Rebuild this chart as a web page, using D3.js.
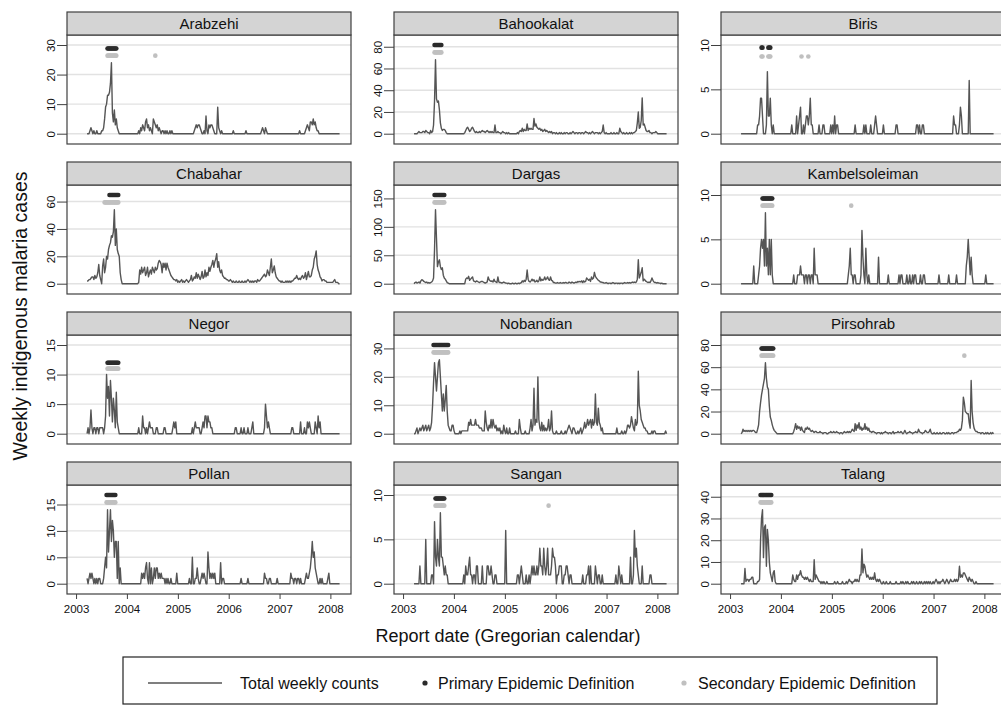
<!DOCTYPE html>
<html><head><meta charset="utf-8">
<script src="https://cdn.jsdelivr.net/npm/d3@7"></script>
<style>body{margin:0;background:#fff}svg{display:block;font-family:"Liberation Sans",Arial,Helvetica,sans-serif}</style>
</head><body><svg id="c" width="1001" height="705"></svg>
<script>
const sites = ["Arabzehi","Bahookalat","Biris","Chabahar","Dargas","Kambelsoleiman","Negor","Nobandian","Pirsohrab","Pollan","Sangan","Talang"];
const firstWeek = "2003-03-21";
const yearTicks = [2003,2004,2005,2006,2007,2008];

const arabzehi = [
0,0,0,1,2,1,0,1,0,0, 1,0,0,0,0,1,1,2,5,9, 10,13,13,14,17,24,7,4,8,3, 5,2,1,0,0,0,0,0,0,0,
0,0,0,0,0,0,0,0,0,0, 0,0,0,1,0,2,1,3,2,1, 4,5,2,3,1,2,1,0,5,4, 3,2,3,1,2,1,0,1,1,0,
1,0,1,0,0,1,0,1,0,0, 0,0,0,0,0,0,0,0,0,0, 0,0,0,0,0,0,0,0,0,0, 1,2,3,2,3,3,2,1,0,0,
1,0,6,1,0,3,2,3,3,2, 1,0,0,0,9,2,1,0,1,0, 0,0,0,0,0,0,0,0,0,0, 1,0,0,0,0,0,0,0,0,0,
0,0,0,1,0,0,0,0,0,0, 0,0,0,0,0,0,0,0,0,1, 2,1,0,2,1,0,0,0,0,0, 0,0,0,0,0,0,0,0,0,0,
0,0,0,0,0,0,0,0,0,0, 0,0,0,0,0,0,0,0,1,0, 0,0,0,0,1,2,3,2,1,4, 4,3,5,3,4,2,1,1,0,0,
0,0,0,0,0,0,0,0,0,0, 0,0,0,0,0,0,0,0,0,0];
const bahookalat = [
0,0,0,0,1,2,1,1,1,2, 2,1,3,2,1,1,0,3,1,2, 8,30,68,32,29,30,22,10,5,3, 4,4,3,1,0,0,0,0,0,0,
0,0,0,0,0,0,0,0,0,0, 0,0,1,3,5,6,4,2,3,5, 6,4,2,1,2,1,1,2,1,2, 3,2,2,1,2,3,2,1,2,1,
2,1,1,8,1,1,2,1,1,0, 1,2,1,1,0,1,0,1,0,0, 0,0,0,0,0,0,1,0,2,3, 2,5,2,4,3,3,9,3,5,4,
5,4,4,14,7,9,6,5,4,5, 3,4,2,3,4,2,3,2,1,2, 1,2,0,1,1,0,1,0,0,1, 0,1,0,0,1,0,1,1,0,0,
1,0,1,2,1,0,1,1,0,1, 1,0,1,1,0,1,2,1,1,0, 1,0,1,2,1,0,1,1,1,0, 1,0,1,2,8,1,0,1,0,0,
0,0,1,0,0,1,0,0,1,0, 0,5,2,1,0,1,0,0,1,0, 0,1,0,1,0,1,1,2,3,10, 20,5,6,12,33,8,9,6,3,2,
2,3,1,1,0,1,1,1,2,1, 0,0,0,0,0,0,0,0,0,0];
const biris = [
0,0,0,0,0,0,0,0,0,0, 0,0,0,0,0,0,0,1,1,2, 4,4,2,0,0,0,1,7,2,2, 4,1,0,1,0,0,0,0,0,0,
0,0,0,0,0,0,0,0,0,0, 0,0,1,0,0,0,0,2,0,1, 2,3,0,0,1,0,1,2,2,1, 2,4,1,1,0,0,0,0,0,0,
1,0,0,0,1,1,0,0,0,0, 0,0,1,0,1,0,2,0,1,1, 0,0,0,0,0,0,0,0,0,0, 0,0,0,0,0,0,0,1,0,0,
0,0,0,0,0,0,1,0,1,0, 0,0,0,1,0,0,0,1,2,1, 0,0,0,0,0,0,1,0,0,0, 0,0,0,0,0,0,0,0,0,1,
1,0,0,0,0,0,0,0,0,0, 0,0,0,0,0,0,0,0,0,0, 1,1,0,1,0,0,1,1,0,0, 0,0,0,0,0,0,0,0,0,0,
0,0,0,0,0,0,0,0,0,0, 0,0,0,0,0,0,0,0,2,1, 1,0,0,0,1,3,2,0,0,0, 0,0,0,0,6,0,0,0,0,0,
0,0,0,0,0,0,0,0,0,0, 0,0,0,0,0,0,0,0,0,0];
const chabahar = [
2,2,3,3,4,5,5,3,6,4, 5,8,14,6,3,0,13,18,8,12, 20,18,25,28,30,35,34,38,54,28, 40,25,22,20,8,3,0,0,0,0,
0,0,0,0,0,0,0,0,0,0, 0,0,0,1,10,7,12,8,10,12, 6,8,12,5,8,10,7,12,10,8, 12,10,11,15,17,16,14,8,15,12,
15,10,15,12,10,8,6,5,4,3, 3,2,3,1,2,1,2,3,1,2, 1,2,3,2,1,2,3,6,2,3, 5,4,8,4,7,5,3,5,9,4,
5,10,5,8,6,12,9,12,14,17, 12,16,18,22,12,16,10,8,10,6, 5,4,4,3,3,2,2,3,2,1, 2,1,1,2,1,1,2,1,1,2,
1,1,2,1,2,3,2,1,2,1, 2,1,2,2,1,3,2,2,3,4, 5,6,7,5,6,10,8,6,12,18, 8,10,13,8,5,4,3,2,2,1,
2,1,1,1,2,1,2,1,2,1, 2,2,3,4,4,6,4,3,4,3, 5,6,4,5,8,3,6,9,5,5, 6,10,12,18,20,24,14,10,8,5,
4,2,3,3,2,2,1,1,1,1, 1,1,1,2,3,1,1,1,0,0];
const dargas = [
0,2,3,1,2,3,1,5,7,6, 4,3,2,3,1,2,1,2,3,5, 10,60,130,80,30,38,42,30,25,28, 15,10,8,5,2,1,0,0,0,0,
0,0,0,0,0,0,0,0,0,0, 0,0,0,8,10,9,13,6,8,10, 12,5,4,3,5,4,3,2,3,4, 4,3,2,1,2,3,12,7,5,4,
5,3,8,4,3,2,12,3,2,2, 1,2,3,2,1,1,0,1,0,0, 0,1,0,0,1,0,0,1,0,1, 2,5,3,6,4,8,24,8,4,3,
5,8,5,7,3,4,6,3,5,12, 5,8,6,7,12,7,9,12,7,6, 12,6,5,2,2,1,1,2,1,1, 2,1,1,2,1,2,2,1,1,3,
2,1,3,2,1,2,3,2,4,3, 4,3,5,2,5,3,4,10,8,6, 8,4,12,8,10,20,13,10,8,6, 5,3,3,2,2,1,1,2,1,0,
1,1,0,1,2,1,0,1,1,0, 1,0,1,1,0,1,2,1,1,2, 1,2,1,2,3,2,3,2,3,8, 42,10,15,20,28,5,8,6,4,3,
2,3,2,5,10,6,3,2,2,1, 2,1,1,0,1,0,0,0,0,0];
const kambelsoleiman = [
0,0,0,0,0,0,0,0,0,0, 0,0,0,2,0,0,0,0,1,2, 4,5,4,5,2,8,2,4,1,5, 1,5,1,0,0,0,0,0,0,0,
0,0,0,0,0,0,0,0,0,0, 0,0,0,0,1,0,0,0,1,1, 1,2,1,1,1,0,1,1,0,1, 1,0,1,1,0,4,1,1,1,0,
0,0,0,0,0,0,0,0,0,0, 0,0,0,0,0,0,0,0,0,0, 0,0,0,0,0,0,0,0,0,0, 1,2,4,1,1,0,1,1,0,0,
0,0,0,1,6,3,1,0,4,1, 0,1,0,0,0,0,0,0,0,0, 0,3,0,0,0,0,0,0,0,0, 0,1,0,0,0,0,0,0,0,0,
0,0,1,0,1,1,0,0,0,0, 1,0,0,1,0,0,1,0,1,1, 0,0,0,0,1,0,0,1,1,0, 0,0,0,0,0,0,0,0,0,0,
0,0,0,1,0,0,0,0,0,0, 0,0,0,1,0,0,0,0,0,0, 0,1,0,0,0,0,0,0,0,0, 0,2,3,5,3,1,3,1,0,0,
0,0,0,0,0,0,0,0,0,0, 0,1,0,0,0,0,0,0,0,0];
const negor = [
0,1,0,1,4,1,0,1,1,0, 1,1,0,1,1,1,1,0,1,3, 10,6,8,3,9,6,2,6,4,1, 7,2,1,0,0,0,0,0,0,0,
0,0,0,0,0,0,0,0,0,0, 0,0,0,1,0,0,0,3,1,1, 0,1,0,1,2,1,1,1,0,0, 0,1,1,0,0,0,0,0,0,1,
1,0,0,0,0,0,0,0,1,2, 1,2,0,0,0,0,0,0,0,0, 0,0,0,0,0,0,0,0,1,0, 1,2,1,1,1,1,0,0,1,2,
1,3,3,1,3,2,2,1,1,0, 0,0,0,0,0,0,0,0,0,0, 0,0,0,0,0,0,0,0,0,0, 0,0,1,1,0,0,0,0,1,0,
0,1,0,0,0,1,0,0,0,1, 2,0,0,0,0,0,0,0,0,0, 0,0,1,5,3,1,2,1,0,0, 0,0,0,0,0,0,0,0,0,0,
0,0,0,0,0,0,0,0,0,0, 1,1,0,0,0,0,0,0,0,2, 0,0,0,1,0,0,2,1,2,1, 0,0,0,0,2,1,0,3,1,2,
0,0,0,0,0,0,0,0,0,0, 0,0,0,0,0,0,0,0,0,0];
const nobandian = [
0,0,1,2,0,1,2,1,2,3, 1,2,3,1,2,3,1,2,4,10, 18,25,20,15,20,25,26,20,14,8, 14,8,12,17,8,3,2,1,1,3,
3,1,0,0,0,0,0,1,0,1, 1,1,1,1,1,1,4,3,5,3, 3,3,3,5,3,3,3,2,2,2, 1,1,1,8,4,2,1,3,2,5,
2,5,3,2,3,1,2,1,2,0, 1,0,3,1,0,2,0,0,2,0, 0,0,0,0,1,0,0,0,5,2, 0,0,0,0,1,0,0,0,0,2,
5,1,3,16,3,5,4,20,5,2, 1,4,1,3,1,2,1,2,5,1, 2,8,1,0,0,0,1,0,0,0, 0,1,0,0,0,1,0,1,2,3,
2,1,0,2,2,1,0,0,1,0, 1,2,0,1,2,4,2,3,5,3, 4,5,2,5,3,4,14,4,3,9, 4,3,1,2,0,0,0,0,0,0,
0,0,0,0,0,0,0,0,2,0, 0,0,0,1,0,0,1,0,1,3, 3,2,3,6,4,2,1,5,3,4, 22,10,8,5,4,3,2,2,1,1,
0,0,0,0,1,0,1,1,0,0, 0,0,0,0,0,0,0,0,1,0];
const pirsohrab = [
0,1,4,2,3,2,3,2,3,2, 3,2,3,3,2,1,1,4,8,20, 28,35,40,45,50,64,50,42,40,25, 15,12,8,5,3,2,1,0,0,0,
0,0,0,0,0,0,0,0,0,0, 0,0,0,0,2,5,9,4,7,5, 6,3,6,3,2,1,5,4,6,4, 5,3,2,3,2,1,2,2,1,1,
1,2,1,1,0,1,1,1,0,0, 1,1,2,1,1,2,1,1,2,1, 1,0,1,1,0,1,2,1,1,2, 1,2,1,2,4,3,2,9,3,8,
5,10,4,6,3,5,4,9,4,6, 3,5,2,2,1,2,2,1,1,0, 1,1,1,0,1,0,1,1,2,1, 1,0,1,1,0,1,2,0,1,1,
1,2,1,1,2,1,0,1,3,1, 0,1,1,2,1,1,0,1,1,2, 1,1,4,2,1,1,0,1,1,3, 2,1,1,2,4,1,0,0,1,0,
0,1,0,0,1,0,0,1,1,0, 0,1,0,1,0,0,1,1,0,1, 1,1,2,2,4,3,5,12,33,28, 20,19,18,18,10,5,48,20,10,5,
3,2,2,1,1,1,0,1,1,0, 0,1,0,1,0,0,1,0,1,0];
const pollan = [
1,0,1,2,1,2,1,0,1,0, 1,0,1,1,0,0,0,1,3,5, 3,14,6,10,14,8,12,10,5,8, 8,1,8,0,3,0,0,0,0,0,
0,0,0,0,0,0,0,0,0,0, 0,0,0,0,0,0,2,1,2,1, 3,4,1,0,4,0,3,0,1,3, 1,3,3,1,2,1,2,1,1,1,
0,1,0,1,0,0,1,0,0,0, 0,0,2,0,0,0,0,0,0,0, 0,0,0,0,0,1,0,0,5,0, 0,1,1,3,1,0,0,1,2,1,
2,1,0,0,6,3,1,2,1,2, 1,2,0,0,0,0,0,4,0,1, 1,0,0,0,0,0,0,0,0,0, 0,0,0,0,0,0,0,0,1,0,
0,0,0,0,0,1,0,0,0,0, 0,0,0,0,0,0,0,0,0,0, 0,0,2,1,1,0,0,1,1,0, 0,0,0,0,0,1,0,0,0,0,
0,0,0,0,0,0,0,0,0,2, 1,1,0,1,1,0,1,1,0,1, 0,0,0,0,1,2,1,1,2,3, 5,8,5,6,3,2,1,0,0,1,
0,1,0,0,0,0,0,1,2,0, 0,0,0,0,0,0,0,0,0,0];
const sangan = [
0,0,0,0,0,0,2,0,0,0, 0,0,5,0,0,0,0,0,1,1, 0,7,3,2,5,3,2,8,3,3, 2,1,2,1,1,0,0,0,0,0,
0,0,0,0,0,0,0,0,0,0, 0,1,0,2,1,1,2,3,1,1, 0,1,1,0,2,2,0,0,0,0, 2,0,0,0,0,2,2,1,1,2,
1,0,0,1,1,0,0,0,0,0, 0,0,0,0,6,0,0,0,0,0, 0,0,0,0,0,0,1,1,0,1, 2,1,0,0,0,1,0,0,1,0,
1,2,1,2,1,1,2,1,2,4, 2,2,1,4,2,1,2,4,1,1, 1,2,4,3,3,2,0,1,1,2, 2,2,0,0,1,1,2,2,1,0,
1,1,0,0,0,0,0,0,0,0, 0,0,0,1,0,0,0,1,1,2, 0,2,0,0,0,0,2,1,0,1, 1,0,0,1,0,0,0,0,0,0,
0,0,0,0,0,0,0,1,0,0, 2,1,0,1,0,0,0,0,0,0, 0,0,3,0,0,1,6,3,4,2, 1,0,0,0,2,0,0,0,0,0,
0,0,1,1,0,0,0,0,0,0, 0,0,0,0,0,0,0,0,0,0];
const talang = [
0,0,0,0,7,1,2,2,1,2, 2,3,3,0,0,0,0,1,1,2, 20,30,34,12,26,27,8,25,20,10, 5,3,1,5,6,1,0,0,0,0,
0,0,0,0,0,0,0,0,0,0, 0,0,0,4,2,1,1,4,2,4, 4,6,4,3,3,2,3,2,3,2, 1,2,1,1,1,11,2,4,3,2,
1,1,0,1,0,1,0,0,1,0, 0,0,0,0,0,0,1,0,0,1, 0,0,0,0,1,0,0,0,1,0, 1,2,1,1,0,1,1,2,1,2,
1,1,4,4,16,5,9,8,5,3, 4,3,2,3,2,3,2,5,2,1, 2,1,2,1,0,0,1,0,0,1, 0,0,0,1,0,0,0,0,0,1,
0,0,0,0,1,0,1,0,0,1, 0,1,0,0,0,1,0,1,0,0, 1,0,0,1,0,1,0,0,1,0, 1,0,1,0,1,0,0,1,0,1,
2,1,0,1,0,1,1,2,1,0, 1,2,1,0,1,2,1,1,1,2, 1,2,1,2,8,3,4,3,5,5, 4,3,2,1,3,2,1,2,1,0,
0,1,0,0,0,0,0,0,0,0, 0,0,0,0,0,0,0,0,0,0];

const counts = [arabzehi,bahookalat,biris,chabahar,dargas,kambelsoleiman,negor,nobandian,pirsohrab,pollan,sangan,talang];

const yTicks = [[0,10,20,30],[0,20,40,60,80],[0,5,10],[0,20,40,60],[0,50,100,150],[0,5,10],
                [0,5,10,15],[0,10,20,30],[0,20,40,60,80],[0,5,10,15],[0,5,10],[0,10,20,30,40]];

// epidemic weeks (index of week from firstWeek) and the level at which they are marked
const primaryWeeks = [
 [21,22,23,24,25,26,27,28,29,30],[21,22,23,24,25,26,27,28],[21,22,28,29,30],
 [23,24,25,26,27,28,29,30,31,32],[21,22,23,24,25,26,27,28,29,30,31],[22,23,24,25,26,27,28,29,30,31,32],
 [21,22,23,24,25,26,27,28,29,30,31,32],[20,21,22,23,24,25,26,27,28,29,30,31,32,33,34,35],[21,22,23,24,25,26,27,28,29,30,31,32,33],
 [20,21,22,23,24,25,26,27,28,29],[22,23,24,25,26,27,28,29,30,31],[20,21,22,23,24,25,26,27,28,29,30,31]];
const secondaryWeeks = [
 [21,22,23,24,25,26,27,28,29,30,70],[21,22,23,24,25,26,27,28],[21,22,28,29,30,62,69],
 [18,19,20,21,22,23,24,25,26,27,28,29,30,31,32],[21,22,23,24,25,26,27,28,29,30,31],[22,23,24,25,26,27,28,29,30,31,32,113],
 [21,22,23,24,25,26,27,28,29,30,31,32],[20,21,22,23,24,25,26,27,28,29,30,31,32,33,34,35],[21,22,23,24,25,26,27,28,29,30,31,32,33,229],
 [20,21,22,23,24,25,26,27,28,29],[22,23,24,25,26,27,28,29,30,31,138],[20,21,22,23,24,25,26,27,28,29,30,31]];
const primaryLevel = [28.8,81.6,9.7,64.8,156,9.6,12,31.2,76.8,16.8,9.6,40.8];
const secondaryLevel = [26.4,74.8,8.7,59.4,143,8.8,11,28.6,70.4,15.4,8.8,37.4];

const legendLabels = ["Total weekly counts","Primary Epidemic Definition","Secondary Epidemic Definition"];

// ---------- drawing ----------
const svg = d3.select("#c");
const FONT = '"Liberation Sans",Arial,Helvetica,sans-serif';
const lineCol = "#555555", primCol = "#2b2b2b", secCol = "#c0c0c0", frameCol = "#404040";
const panelW = 284, colX = [67, 394, 721], stripH = 23, plotH = 109;
const parse = d3.timeParse("%Y-%m-%d");
const week0 = parse(firstWeek);
const weekDate = w => d3.timeDay.offset(week0, 7*w);

sites.forEach((name, i) => {
  const col = i % 3, row = Math.floor(i / 3);
  const left = colX[col], top = 12 + 150*row;
  const pTop = top + stripH, pBot = pTop + plotH;
  const x = d3.scaleTime().domain([new Date(2002,9,28), new Date(2008,4,28)]).range([left, left+panelW]);
  const ticks = yTicks[i];
  const ymax = Math.max(ticks[ticks.length-1], primaryLevel[i]);
  const y = d3.scaleLinear().domain([0, ymax]).range([top+121.7, top+33]);
  const g = svg.append("g");

  g.append("rect").attr("x",left).attr("y",pTop).attr("width",panelW).attr("height",plotH)
    .attr("fill","#fff");
  // grid
  g.selectAll("line.grid").data(ticks).join("line").attr("class","grid")
    .attr("x1",left).attr("x2",left+panelW).attr("y1",d=>y(d)).attr("y2",d=>y(d))
    .attr("stroke","#e2e2e2").attr("stroke-width",1.4);
  // data line
  const data = counts[i].map((v,w)=>({d:weekDate(w), v}));
  g.append("path").datum(data)
    .attr("d", d3.line().x(p=>x(p.d)).y(p=>y(p.v)))
    .attr("fill","none").attr("stroke",lineCol).attr("stroke-width",1.4).attr("stroke-linejoin","round");
  // epidemic markers
  g.selectAll("circle.sec").data(secondaryWeeks[i]).join("circle").attr("class","sec")
    .attr("cx",w=>x(weekDate(w))).attr("cy",y(secondaryLevel[i])).attr("r",2.3).attr("fill",secCol);
  g.selectAll("circle.prim").data(primaryWeeks[i]).join("circle").attr("class","prim")
    .attr("cx",w=>x(weekDate(w))).attr("cy",y(primaryLevel[i])).attr("r",2.3).attr("fill",primCol);
  // frame
  g.append("rect").attr("x",left).attr("y",pTop).attr("width",panelW).attr("height",plotH)
    .attr("fill","none").attr("stroke",frameCol).attr("stroke-width",1.2);
  // strip
  g.append("rect").attr("x",left).attr("y",top).attr("width",panelW).attr("height",stripH)
    .attr("fill","#d4d4d4").attr("stroke",frameCol).attr("stroke-width",1.2);
  g.append("text").attr("x",left+panelW/2).attr("y",top+17).attr("text-anchor","middle")
    .attr("font-size",15).attr("font-family",FONT).attr("fill","#111").text(name);
  // y axis
  const ya = g.append("g").attr("transform",`translate(${left},0)`)
    .call(d3.axisLeft(y).tickValues(ticks).tickSize(10).tickSizeOuter(0));
  ya.select(".domain").remove();
  ya.selectAll(".tick line").attr("stroke",frameCol).attr("stroke-width",1);
  ya.selectAll(".tick text").attr("transform","rotate(-90)").attr("x",0).attr("y",-12.5).attr("dy",0)
    .attr("text-anchor","middle").attr("font-size",11.5).attr("font-family",FONT).attr("fill","#111");
  // x axis on bottom row
  if (row === 3) {
    const xa = g.append("g").attr("transform",`translate(0,${pBot})`)
      .call(d3.axisBottom(x).tickValues(yearTicks.map(yy=>new Date(yy,0,1))).tickFormat(d3.timeFormat("%Y")).tickSize(5).tickSizeOuter(0));
    xa.select(".domain").remove();
    xa.selectAll(".tick line").attr("stroke",frameCol);
    xa.selectAll(".tick text").attr("font-size",11.5).attr("font-family",FONT).attr("fill","#111").attr("dy","0.95em");
  }
});

// axis titles
svg.append("text").attr("transform","translate(27,316) rotate(-90)").attr("text-anchor","middle")
  .attr("font-size",19.5).attr("font-family",FONT).attr("fill","#111").text("Weekly indigenous malaria cases");
svg.append("text").attr("x",508).attr("y",642).attr("text-anchor","middle")
  .attr("font-size",18).attr("font-family",FONT).attr("fill","#111").text("Report date (Gregorian calendar)");

// legend
const lg = svg.append("g");
lg.append("rect").attr("x",123).attr("y",657).attr("width",814).attr("height",47)
  .attr("fill","#fff").attr("stroke","#222").attr("stroke-width",1.2);
lg.append("line").attr("x1",148).attr("x2",222).attr("y1",683).attr("y2",683).attr("stroke",lineCol).attr("stroke-width",1.6);
lg.append("circle").attr("cx",425).attr("cy",683).attr("r",2.6).attr("fill",primCol);
lg.append("circle").attr("cx",684).attr("cy",683).attr("r",2.6).attr("fill",secCol);
const lx = [240, 438, 698];
legendLabels.forEach((t,k)=>lg.append("text").attr("x",lx[k]).attr("y",688.5).attr("font-size",16)
  .attr("font-family",FONT).attr("fill","#111").text(t));
</script></body></html>
